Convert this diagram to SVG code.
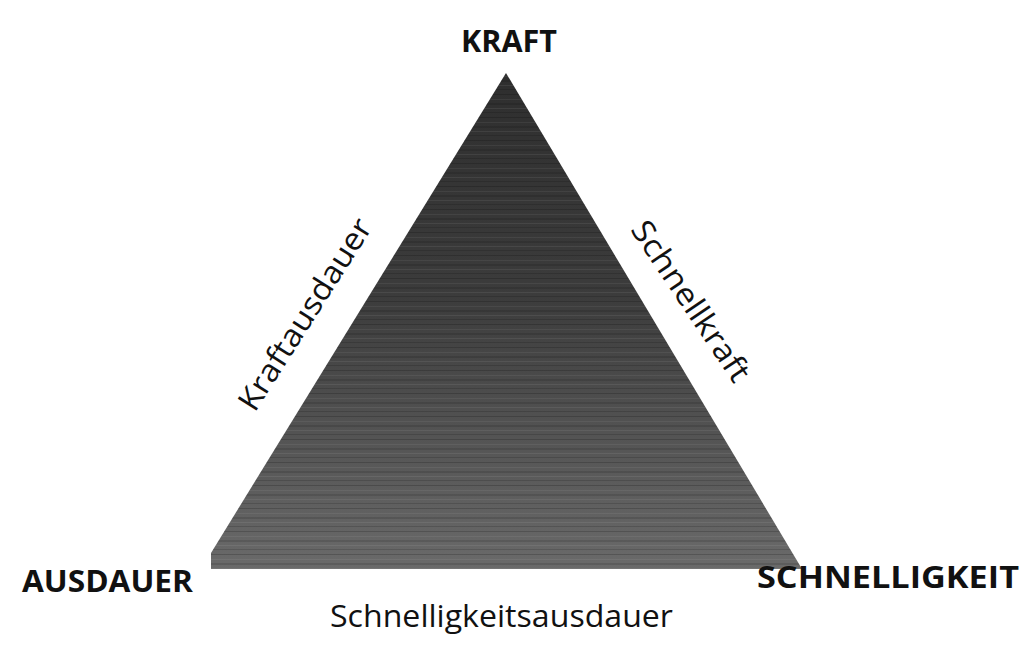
<svg xmlns="http://www.w3.org/2000/svg" width="1024" height="660" viewBox="0 0 1024 660">
<style>
.cap{font-family:"Open Sans","Liberation Sans",sans-serif;font-weight:bold;font-size:30px;fill:#111}
.lbl{font-family:"Open Sans","Liberation Sans",sans-serif;font-size:31px;fill:#111}
</style>
<defs>
<linearGradient id="g" x1="0" y1="0" x2="0" y2="1">
<stop offset="0" stop-color="#2e2e2e"/>
<stop offset="0.45" stop-color="#3c3c3c"/>
<stop offset="1" stop-color="#6a6a6a"/>
</linearGradient>
<pattern id="streaks" width="1024" height="23" patternUnits="userSpaceOnUse">
<rect x="0" y="2" width="1024" height="1" fill="#000" opacity="0.18"/>
<rect x="0" y="7" width="1024" height="1" fill="#fff" opacity="0.06"/>
<rect x="0" y="11" width="1024" height="2" fill="#000" opacity="0.12"/>
<rect x="0" y="16" width="1024" height="1" fill="#fff" opacity="0.07"/>
<rect x="0" y="20" width="1024" height="1" fill="#000" opacity="0.15"/>
</pattern>
</defs>
<rect width="1024" height="660" fill="#fff"/>
<g id="triangle">
<polygon points="506,73 802,569 211,569 211,553" fill="url(#g)"/>
<polygon points="506,73 802,569 211,569 211,553" fill="url(#streaks)"/>
</g>
<g id="kraft"><text class="cap" x="509" y="52" text-anchor="middle" textLength="96" lengthAdjust="spacingAndGlyphs">KRAFT</text></g>
<g id="ausdauer"><text class="cap" x="22" y="592" textLength="171" lengthAdjust="spacingAndGlyphs">AUSDAUER</text></g>
<g id="schnelligkeit"><text class="cap" x="757" y="588" textLength="262" lengthAdjust="spacingAndGlyphs">SCHNELLIGKEIT</text></g>
<g id="edges">
<text class="lbl" transform="translate(314,320) rotate(-57.5)" text-anchor="middle" textLength="221" lengthAdjust="spacingAndGlyphs">Kraftausdauer</text>
<text class="lbl" transform="translate(682,307) rotate(56)" text-anchor="middle" textLength="187" lengthAdjust="spacingAndGlyphs">Schnellkraft</text>
<text class="lbl" x="330" y="627" textLength="343" lengthAdjust="spacingAndGlyphs">Schnelligkeitsausdauer</text>
</g>
</svg>
